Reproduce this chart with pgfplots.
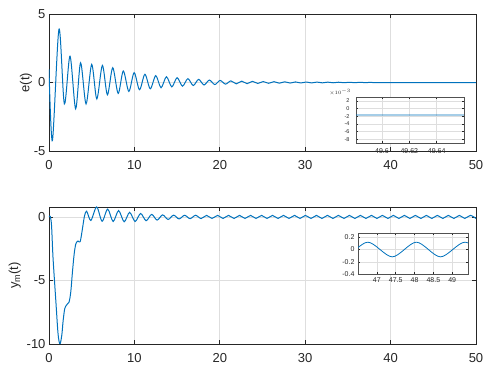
\documentclass[border=0pt]{standalone}
\usepackage{fontspec}
\setmainfont{Liberation Sans}
\usepackage{pgfplots}
\pgfplotsset{compat=1.18}
\definecolor{mblue}{RGB}{0,114,189}
\definecolor{axgray}{RGB}{38,38,38}
\definecolor{gridgray}{RGB}{222,222,222}

\pgfplotsset{
  mlab/.style={
    scale only axis, anchor=south west,
    axis line style={axgray, line width=0.8pt},
    tick style={axgray, line width=0.6pt},
    tick align=inside, major tick length=4pt,
    grid=major, major grid style={gridgray, line width=0.6pt},
    ticklabel style={font=\fontsize{13}{15}\selectfont, text=axgray},
    xticklabel style={yshift=-6pt},
    /pgf/number format/assume math mode=true,
    xmin=0, xmax=50, xtick={0,10,...,50},
  },
  inset/.style={
    scale only axis, anchor=south west,
    axis background/.style={fill=white},
    axis line style={axgray!80, line width=0.6pt},
    tick style={axgray, line width=0.4pt},
    tick align=inside, major tick length=2pt,
    grid=major, major grid style={gridgray, line width=0.4pt},
    ticklabel style={font=\fontsize{7}{8}\selectfont, text=axgray},
    /pgf/number format/assume math mode=true,
  },
}

\begin{document}
\begin{tikzpicture}
\useasboundingbox (0,0) rectangle (488pt,369pt);

% e(t)
\begin{axis}[mlab, at={(49pt,218pt)}, width=427pt, height=137pt,
  ymin=-5, ymax=5, ytick={-5,0,5},
  ylabel={e(t)},
  every axis y label/.style={at={(axis description cs:-0.054,0.5)}, rotate=90,
    anchor=center, font=\fontsize{13}{15}\selectfont, text=axgray}]
\addplot[mblue, line width=1pt, smooth] coordinates {
(0,0.96) (0.4,-4.25) (1.17,3.9) (1.8,-1.56) (2.46,1.92) (3.12,-1.92)
(3.7,1.44) (4.34,-1.56) (5.0,1.32) (5.6,-1.2) (6.25,1.25) (6.84,-0.9)
(7.46,1.08) (8.1,-0.8) (8.7,0.84) (9.35,-0.65) (9.97,0.72) (10.6,-0.53)
(11.23,0.6) (11.86,-0.46) (12.5,0.5) (13.12,-0.38) (13.75,0.42) (14.38,-0.32)
(15.0,0.35) (15.63,-0.27) (16.26,0.28) (16.89,-0.22) (17.52,0.23) (18.15,-0.18)
(18.78,0.18) (19.41,-0.15) (20.04,0.15) (20.67,-0.12) (21.3,0.12) (21.93,-0.1)
(22.56,0.1) (23.19,-0.085) (23.82,0.085) (24.45,-0.07) (25.08,0.07) (25.71,-0.06)
(26.34,0.06) (26.97,-0.05) (27.6,0.05) (28.23,-0.04) (28.86,0.04) (29.49,-0.035)
(30.12,0.035) (30.75,-0.03) (31.38,0.03) (32.01,-0.025) (32.64,0.025) (33.27,-0.02)
(33.9,0.02) (34.53,-0.015) (35.16,0.015) (35.79,-0.012) (36.42,0.012) (37.05,-0.01)
(37.68,0.01) (38.3,-0.003) (44,-0.0019) (50,-0.0015)
};
\end{axis}

% inset of e(t)
\begin{axis}[inset, at={(356pt,226pt)}, width=108pt, height=46pt,
  xmin=49.581, xmax=49.66, xtick={49.6,49.62,49.64},
  xticklabels={49.6,49.62,49.64},
  xticklabel style={yshift=-2pt},
  ymin=-0.009, ymax=0.003, ytick={-0.008,-0.006,-0.004,-0.002,0,0.002},
  scaled y ticks=base 10:3, tick scale binop=\times,
  yticklabel style={font=\fontsize{5.5}{6}\selectfont, xshift=-3pt},
  every y tick scale label/.style={at={(axis description cs:0,1)}, anchor=south east,
    xshift=-1pt, inner sep=1pt, font=\fontsize{5.5}{6}\selectfont, text=axgray}]
\addplot[mblue, line width=0.8pt] coordinates {
(49.581,-0.00168) (49.62,-0.0017) (49.66,-0.00172)
};
\end{axis}

% y_m(t)
\begin{axis}[mlab, at={(49pt,25pt)}, width=427pt, height=137pt,
  ymin=-10, ymax=0.78, ytick={-10,-5,0},
  ylabel={y\textsubscript{m}(t)},
  every axis y label/.style={at={(axis description cs:-0.08,0.5)}, rotate=90,
    anchor=center, font=\fontsize{13}{15}\selectfont, text=axgray}]
\addplot[mblue, line width=1pt, smooth] coordinates {
(0,0) (0.15,0.05) (0.3,-0.7) (0.47,-3.2) (0.8,-6.6) (1.06,-9.2) (1.28,-10.0)
(1.5,-9.3) (1.65,-8.2) (1.85,-7.2) (2.1,-6.9) (2.35,-6.7) (2.55,-5.9)
(2.75,-4.3) (2.95,-2.9) (3.15,-2.1) (3.4,-1.9) (3.65,-1.95) (3.9,-1.0)
(4.15,0.05) (4.41,0.45) (4.9,-0.28) (5.58,0.79) (6.22,-0.34) (6.87,0.62)
(7.51,-0.36) (8.15,0.5) (8.8,-0.38) (9.44,0.36) (10.08,-0.36) (10.73,0.27)
(11.37,-0.3) (12.02,0.2) (12.66,-0.25) (13.3,0.16) (13.95,-0.2) (14.59,0.14)
(15.23,-0.16) (15.88,0.13) (16.52,-0.14) (17.16,0.13) (17.81,-0.13) (18.45,0.12)
(19.09,-0.12) (19.74,0.12) (20.38,-0.12) (21.02,0.12) (21.67,-0.12) (22.31,0.12)
(22.95,-0.12) (23.6,0.12) (24.24,-0.12) (24.89,0.12) (25.53,-0.12) (26.17,0.12)
(26.82,-0.12) (27.46,0.12) (28.1,-0.12) (28.75,0.12) (29.39,-0.12) (30.03,0.12)
(30.68,-0.12) (31.32,0.12) (31.96,-0.12) (32.61,0.12) (33.25,-0.12) (33.89,0.12)
(34.54,-0.12) (35.18,0.12) (35.82,-0.12) (36.47,0.12) (37.11,-0.12) (37.76,0.12)
(38.4,-0.12) (39.04,0.12) (39.69,-0.12) (40.33,0.12) (40.97,-0.12) (41.62,0.12)
(42.26,-0.12) (42.9,0.12) (43.55,-0.12) (44.19,0.12) (44.83,-0.12) (45.48,0.12)
(46.12,-0.12) (46.76,0.12) (47.41,-0.12) (48.05,0.12) (48.69,-0.12) (49.34,0.12)
(50,-0.12)
};
\end{axis}

% inset of y_m(t)
\begin{axis}[inset, at={(358pt,95pt)}, width=110pt, height=41pt,
  xmin=46.5, xmax=49.42, xtick={47,47.5,48,48.5,49},
  ymin=-0.4, ymax=0.27, ytick={-0.4,-0.2,0,0.2}]
\addplot[mblue, line width=0.8pt, smooth] coordinates {
(45.48,0.12) (46.12,-0.12) (46.76,0.12) (47.41,-0.12) (48.05,0.12)
(48.69,-0.12) (49.34,0.12) (49.98,-0.12)
};
\end{axis}
\end{tikzpicture}
\end{document}
